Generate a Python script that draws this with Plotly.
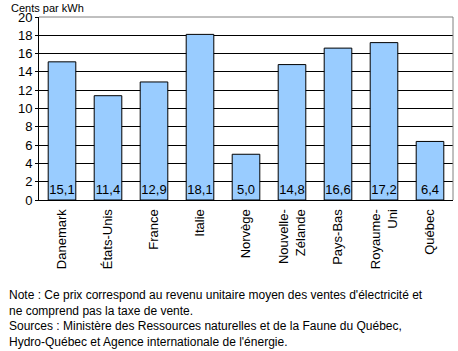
import plotly.graph_objects as go

categories = ["Danemark", "États-Unis", "France", "Italie", "Norvège",
              "Nouvelle-<br>Zélande", "Pays-Bas", "Royaume-<br>Uni", "Québec"]
values = [15.1, 11.4, 12.9, 18.1, 5.0, 14.8, 16.6, 17.2, 6.4]
y_ticks = [0, 2, 4, 6, 8, 10, 12, 14, 16, 18, 20]

FONT = "Liberation Sans, Arial, sans-serif"

fig = go.Figure()
fig.add_trace(go.Bar(
    x=categories, y=values,
    marker=dict(color="#99CCFF", line=dict(color="black", width=1)),
    text=values, texttemplate="%{y:.1f}",
    textposition="inside", insidetextanchor="start", textangle=0,
    constraintext="none",
    textfont=dict(family=FONT, size=13, color="black"),
    hoverinfo="skip",
))

fig.update_layout(
    width=458, height=351,
    margin=dict(l=39, r=5, t=17, b=151),
    paper_bgcolor="white", plot_bgcolor="white",
    separators=", ",
    bargap=0.4,
    showlegend=False,
    font=dict(family=FONT, size=13, color="black"),
    xaxis=dict(
        showline=True, linecolor="black", linewidth=1,
        ticks="", tickangle=-90, tickfont=dict(family=FONT, size=13),
        ticklabelstandoff=3,
        showgrid=False, fixedrange=True,
    ),
    yaxis=dict(
        range=[0, 20], tickvals=y_ticks,
        showline=True, linecolor="black", linewidth=1,
        ticks="outside", ticklen=3, tickcolor="black",
        showgrid=True, gridcolor="black", gridwidth=1,
        zeroline=False, tickfont=dict(family=FONT, size=13),
        fixedrange=True,
    ),
    shapes=[
        dict(type="line", xref="paper", yref="paper", x0=0, x1=1, y0=1, y1=1,
             line=dict(color="#808080", width=1)),
        dict(type="line", xref="paper", yref="paper", x0=1, x1=1, y0=0, y1=1,
             line=dict(color="#808080", width=1)),
    ],
    annotations=[
        dict(text="Cents par kWh", xref="paper", yref="paper",
             x=-0.073, y=1.093, xanchor="left", yanchor="top",
             showarrow=False, font=dict(family=FONT, size=11)),
        dict(text="Note : Ce prix correspond au revenu unitaire moyen des ventes d'électricité et<br>"
                  "ne comprend pas la taxe de vente.<br>"
                  "Sources : Ministère des Ressources naturelles et de la Faune du Québec,<br>"
                  "Hydro-Québec et Agence internationale de l'énergie.",
             xref="paper", yref="paper", x=-0.077, y=-0.47,
             xanchor="left", yanchor="top", align="left",
             showarrow=False, font=dict(family=FONT, size=12)),
    ],
)

fig.write_html("out.html")
